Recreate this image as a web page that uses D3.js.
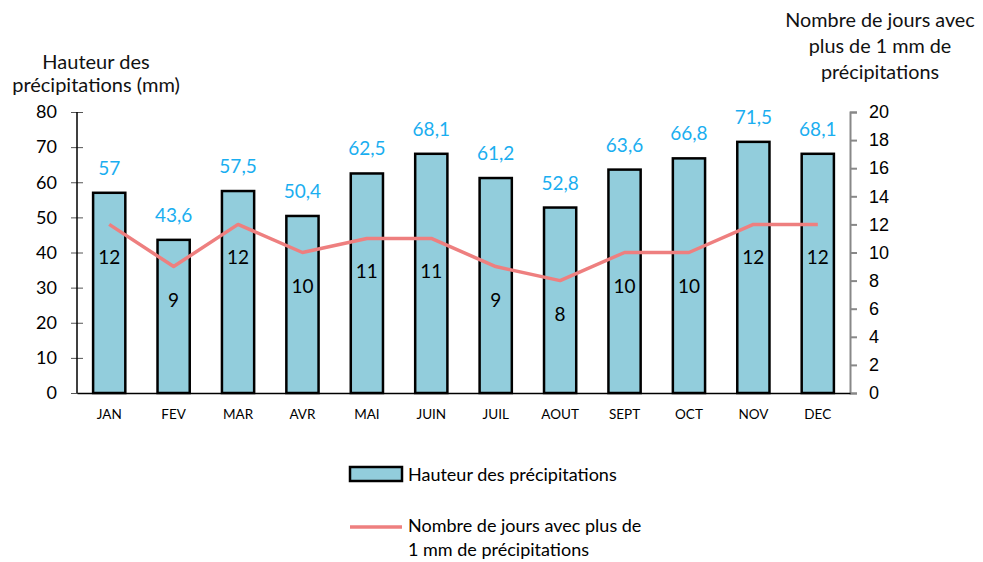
<!DOCTYPE html>
<html><head><meta charset="utf-8">
<script src="https://cdn.jsdelivr.net/npm/d3@7"></script>
<style>body{margin:0;background:#fff}svg{display:block}</style>
</head><body><svg id="c" width="983" height="562"></svg>
<script>
const months = ["JAN","FEV","MAR","AVR","MAI","JUIN","JUIL","AOUT","SEPT","OCT","NOV","DEC"];
const rain = [57,43.6,57.5,50.4,62.5,68.1,61.2,52.8,63.6,66.8,71.5,68.1];
const days = [12,9,12,10,11,11,9,8,10,10,12,12];
const leftTicks = [0,10,20,30,40,50,60,70,80];
const rightTicks = [0,2,4,6,8,10,12,14,16,18,20];

const svg = d3.select("#c");
const L=77, R=850, T=112, B=393;
const cal = "Lato, 'Open Sans', sans-serif";
const x = d3.scaleBand().domain(months).range([L,R]).paddingInner(0.5).paddingOuter(0.25);
const y = d3.scaleLinear().domain([0,80]).range([B,T]);
const y2 = d3.scaleLinear().domain([0,20]).range([B,T]);
const fmt = v => String(v).replace(".", ",");

// bars
svg.append("g").selectAll("rect").data(rain).join("rect")
  .attr("x",(d,i)=>x(months[i])).attr("y",d=>y(d))
  .attr("width",x.bandwidth()).attr("height",d=>B-y(d))
  .attr("fill","#92CDDC").attr("stroke","#000").attr("stroke-width",2.5);

// left axis
const ga = svg.append("g").attr("transform",`translate(${L},0)`)
  .call(d3.axisLeft(y).tickValues(leftTicks).tickSize(6).tickPadding(14));
ga.select(".domain").remove();
ga.selectAll(".tick line").attr("x1",-6).attr("x2",6).attr("stroke","#555");
ga.selectAll(".tick text").attr("font-family",cal).attr("font-size",18).attr("fill","#000");
svg.append("line").attr("x1",L).attr("x2",L).attr("y1",T).attr("y2",B).attr("stroke","#000").attr("stroke-width",1.5);

// right axis
const gr = svg.append("g").attr("transform",`translate(${R},0)`)
  .call(d3.axisRight(y2).tickValues(rightTicks).tickSize(7).tickPadding(12));
gr.select(".domain").attr("stroke","#888").attr("stroke-width",2);
gr.selectAll(".tick line").attr("stroke","#888").attr("stroke-width",2);
gr.selectAll(".tick text").attr("font-family","'Liberation Sans', Arial, sans-serif").attr("font-size",18).attr("fill","#000");

// bottom axis
const gb = svg.append("g").attr("transform",`translate(0,${B})`)
  .call(d3.axisBottom(x).tickSize(0).tickPadding(16));
gb.select(".domain").attr("stroke","#000").attr("stroke-width",1.5);
gb.selectAll(".tick text").attr("font-family",cal).attr("font-size",13.5).attr("fill","#000");

// line
const line = d3.line().x((d,i)=>x(months[i])+x.bandwidth()/2).y(d=>y2(d));
svg.append("path").datum(days).attr("d",line).attr("fill","none")
  .attr("stroke","#EE7F7F").attr("stroke-width",3.5).attr("stroke-linejoin","round");

// labels
svg.append("g").selectAll("text").data(rain).join("text")
  .attr("x",(d,i)=>x(months[i])+x.bandwidth()/2).attr("y",d=>y(d)-18)
  .attr("text-anchor","middle").attr("font-family",cal).attr("font-size",19).attr("fill","#1AAEF0")
  .text(d=>fmt(d));
svg.append("g").selectAll("text").data(days).join("text")
  .attr("x",(d,i)=>x(months[i])+x.bandwidth()/2).attr("y",d=>y2(d)+40)
  .attr("text-anchor","middle").attr("font-family",cal).attr("font-size",19).attr("fill","#000")
  .text(d=>d);

// titles
const lt = svg.append("text").attr("font-family",cal).attr("font-size",20).attr("text-anchor","middle").attr("fill","#111");
lt.append("tspan").attr("x",96).attr("y",69).text("Hauteur des");
lt.append("tspan").attr("x",96).attr("y",92).text("précipitations (mm)");
const rt = svg.append("text").attr("font-family",cal).attr("font-size",19.8).attr("text-anchor","middle").attr("fill","#111");
rt.append("tspan").attr("x",880).attr("y",27).text("Nombre de jours avec");
rt.append("tspan").attr("x",880).attr("y",53).text("plus de 1 mm de");
rt.append("tspan").attr("x",880).attr("y",79).text("précipitations");

// legend
svg.append("rect").attr("x",350).attr("y",467).attr("width",52).attr("height",14)
  .attr("fill","#92CDDC").attr("stroke","#000").attr("stroke-width",2.5);
svg.append("text").attr("x",408).attr("y",481).attr("font-family",cal).attr("font-size",18).text("Hauteur des précipitations");
svg.append("line").attr("x1",350).attr("x2",402).attr("y1",527).attr("y2",527).attr("stroke","#EE7F7F").attr("stroke-width",3.5);
const l2 = svg.append("text").attr("font-family",cal).attr("font-size",18);
l2.append("tspan").attr("x",408).attr("y",532).text("Nombre de jours avec plus de");
l2.append("tspan").attr("x",408).attr("y",556).text("1 mm de précipitations");
</script></body></html>
